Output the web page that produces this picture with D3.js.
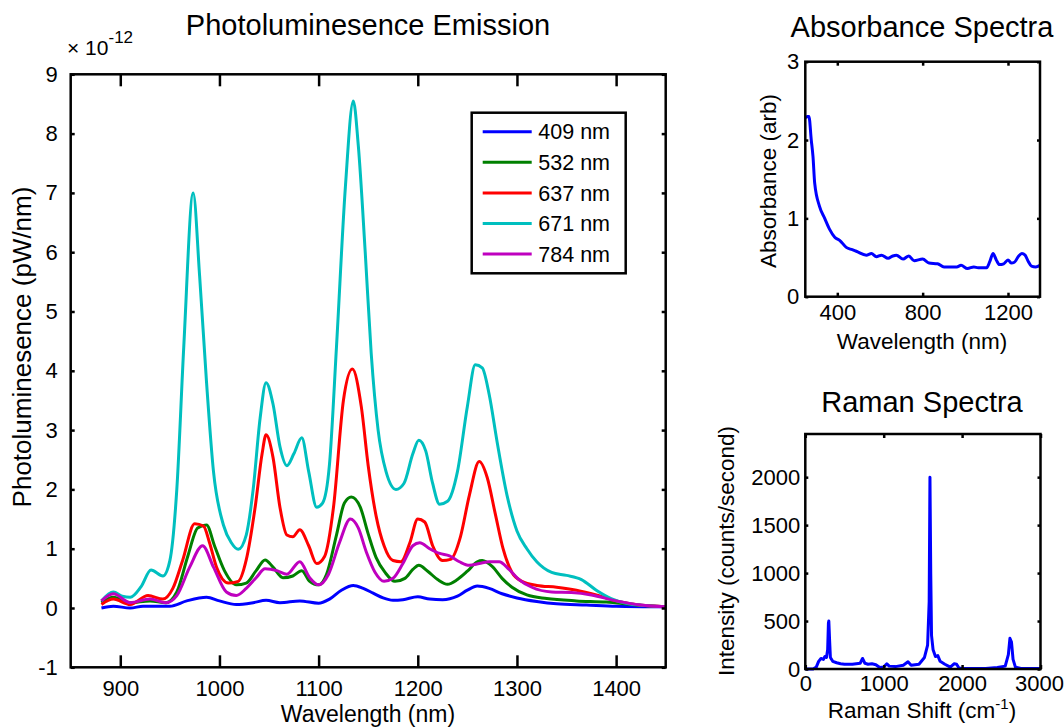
<!DOCTYPE html>
<html>
<head>
<meta charset="utf-8">
<script src="https://cdn.jsdelivr.net/npm/d3@7"></script>
<style>
  body { margin: 0; background: #fff; }
  svg text { font-family: "Liberation Sans", Arial, sans-serif; fill: #000; }
</style>
</head>
<body>
<svg id="fig" width="1064" height="728"></svg>
<script>
// photoluminescence, one array per excitation line: [wavelength nm, value x1e-12]
var pl409 = [[881,0.0],[893,0.03],[910,0.0],[923,0.03],[950,0.03],[967,0.12],[987,0.18],[1000,0.12],[1017,0.06],[1034,0.09],[1047,0.13],[1061,0.09],[1081,0.12],[1100,0.08],[1111,0.15],[1123,0.3],[1135,0.38],[1145,0.33],[1155,0.25],[1165,0.17],[1175,0.13],[1185,0.14],[1200,0.19],[1212,0.15],[1225,0.14],[1240,0.2],[1250,0.3],[1260,0.37],[1272,0.33],[1285,0.24],[1300,0.17],[1320,0.11],[1340,0.07],[1370,0.05],[1400,0.03],[1450,0.02]];
var pl532 = [[881,0.09],[893,0.18],[910,0.09],[930,0.12],[946,0.09],[957,0.27],[968,0.87],[978,1.35],[987,1.4],[995,1.05],[1005,0.63],[1017,0.39],[1027,0.42],[1037,0.63],[1046,0.81],[1054,0.69],[1064,0.51],[1074,0.54],[1083,0.63],[1091,0.45],[1100,0.39],[1108,0.57],[1118,1.23],[1126,1.77],[1133,1.87],[1142,1.7],[1150,1.25],[1158,0.85],[1167,0.6],[1177,0.45],[1187,0.5],[1195,0.65],[1201,0.72],[1210,0.62],[1220,0.48],[1230,0.4],[1240,0.48],[1250,0.62],[1260,0.78],[1265,0.8],[1275,0.7],[1285,0.5],[1295,0.35],[1310,0.22],[1330,0.16],[1360,0.12],[1390,0.1],[1420,0.05],[1450,0.02]];
var pl637 = [[881,0.06],[893,0.15],[910,0.06],[928,0.21],[943,0.15],[953,0.33],[963,0.81],[975,1.42],[984,1.38],[990,1.1],[997,0.69],[1009,0.42],[1019,0.45],[1027,0.81],[1036,1.7],[1043,2.6],[1047,2.92],[1054,2.54],[1061,1.7],[1068,1.23],[1074,1.2],[1081,1.32],[1090,1.05],[1098,0.75],[1106,0.87],[1115,1.7],[1125,3.5],[1134,4.03],[1143,3.4],[1150,2.4],[1158,1.55],[1166,1.05],[1175,0.8],[1183,0.78],[1192,1.1],[1200,1.5],[1207,1.45],[1215,1.05],[1225,0.8],[1233,0.82],[1243,1.2],[1252,1.9],[1262,2.47],[1270,2.2],[1278,1.6],[1286,1.0],[1295,0.6],[1305,0.45],[1320,0.38],[1340,0.35],[1360,0.3],[1380,0.22],[1400,0.12],[1420,0.06],[1450,0.02]];
var pl671 = [[881,0.12],[893,0.27],[902,0.2],[910,0.18],[921,0.36],[931,0.64],[943,0.54],[950,0.8],[957,2.0],[964,4.4],[973.5,7.0],[980,5.6],[987,3.8],[994,2.3],[1004,1.4],[1012,1.1],[1019,0.99],[1027,1.23],[1034,2.0],[1041,3.2],[1047,3.8],[1054,3.44],[1061,2.72],[1068,2.4],[1075,2.6],[1083,2.87],[1090,2.3],[1098,1.7],[1104,1.77],[1111,2.43],[1118,4.4],[1127,7.1],[1135,8.55],[1140,7.8],[1147,6.0],[1153,4.3],[1160,3.0],[1168,2.3],[1178,2.0],[1186,2.1],[1195,2.6],[1201,2.83],[1208,2.65],[1215,2.1],[1222,1.75],[1230,1.8],[1240,2.3],[1250,3.4],[1258,4.1],[1265,4.05],[1272,3.6],[1280,2.8],[1290,1.9],[1300,1.3],[1310,1.0],[1320,0.78],[1335,0.6],[1350,0.55],[1365,0.48],[1380,0.3],[1395,0.16],[1410,0.08],[1430,0.04],[1450,0.02]];
var pl784 = [[881,0.12],[893,0.24],[910,0.09],[930,0.15],[946,0.09],[957,0.21],[970,0.69],[983,1.05],[994,0.69],[1007,0.27],[1017,0.21],[1027,0.33],[1037,0.51],[1046,0.66],[1058,0.63],[1068,0.57],[1081,0.78],[1091,0.51],[1100,0.39],[1110,0.57],[1121,1.1],[1132,1.5],[1140,1.35],[1148,0.95],[1157,0.6],[1166,0.45],[1175,0.5],[1185,0.75],[1195,1.05],[1202,1.1],[1212,1.0],[1222,0.92],[1232,0.88],[1242,0.78],[1252,0.72],[1262,0.75],[1272,0.78],[1282,0.78],[1292,0.65],[1302,0.48],[1315,0.35],[1335,0.27],[1355,0.26],[1375,0.22],[1400,0.12],[1425,0.05],[1450,0.02]];

var plNames = ["409 nm", "532 nm", "637 nm", "671 nm", "784 nm"];
var plColors = ["#0000ff", "#008000", "#ff0000", "#00bfbf", "#bf00bf"];
var plData = [pl409, pl532, pl637, pl671, pl784];

// absorbance [nm, arb]
var absSpec = [[252,2.28],[260,2.3],[267,2.3],[278,2.0],[286,1.79],[294,1.45],[317,1.15],[341,1.0],[364,0.86],[388,0.76],[411,0.72],[442,0.63],[470,0.6],[489,0.58],[536,0.53],[560,0.55],[583,0.51],[607,0.53],[638,0.49],[660,0.52],[677,0.53],[708,0.48],[735,0.52],[760,0.46],[800,0.48],[830,0.43],[870,0.42],[900,0.38],[930,0.38],[960,0.38],[980,0.4],[1010,0.36],[1040,0.38],[1060,0.37],[1100,0.37],[1115,0.45],[1130,0.55],[1145,0.47],[1160,0.41],[1180,0.42],[1200,0.47],[1215,0.43],[1230,0.44],[1250,0.52],[1265,0.55],[1280,0.53],[1295,0.45],[1310,0.39],[1330,0.38],[1350,0.4]];

// raman [cm-1, counts/s]
var ramanSpec = [[0,0],[100,0],[140,20],[170,80],[200,110],[230,100],[250,130],[270,120],[285,200],[295,480],[300,500],[310,300],[320,120],[350,80],[400,65],[450,55],[500,50],[600,50],[700,60],[730,110],[760,60],[800,50],[850,55],[900,45],[950,15],[1000,20],[1040,55],[1070,30],[1150,25],[1250,40],[1310,75],[1350,40],[1450,50],[1520,120],[1560,250],[1580,700],[1590,2000],[1600,1000],[1610,350],[1630,200],[1660,130],[1690,140],[1720,80],[1780,50],[1850,20],[1900,55],[1930,50],[1960,10],[2000,5],[2300,5],[2450,15],[2550,30],[2590,150],[2610,320],[2630,280],[2650,100],[2680,20],[2750,5],[3000,5]];

var plXTicks = [900, 1000, 1100, 1200, 1300, 1400];
var plYTicks = [-1, 0, 1, 2, 3, 4, 5, 6, 7, 8, 9];
var absXTicks = [400, 800, 1200];
var absYTicks = [0, 1, 2, 3];
var ramXTicks = [0, 1000, 2000, 3000];
var ramYTicks = [0, 500, 1000, 1500, 2000];

var svg = d3.select("#fig");
var plain = function(d) { return String(d); };  // matlab style: no commas, no decimals

// box axes like matlab: ticks inward on all four sides, labels bottom/left
function drawAxes(g, x, y, xt, yt, o) {
  var x0 = x.range()[0], x1 = x.range()[1], y0 = y.range()[0], y1 = y.range()[1];

  g.append("g").attr("class", "xlab").attr("transform", "translate(0," + y0 + ")")
    .call(d3.axisBottom(x).tickValues(xt).tickFormat(plain).tickSize(-o.xTick).tickPadding(o.xPad));
  g.append("g").attr("class", "nolab").attr("transform", "translate(0," + y1 + ")")
    .call(d3.axisTop(x).tickValues(xt).tickSize(-o.xTick));
  g.append("g").attr("transform", "translate(" + x0 + ",0)")
    .call(d3.axisLeft(y).tickValues(yt).tickFormat(plain).tickSize(-o.yTick).tickPadding(o.yPad));
  g.append("g").attr("class", "nolab").attr("transform", "translate(" + x1 + ",0)")
    .call(d3.axisRight(y).tickValues(yt).tickSize(-o.yTick));

  g.selectAll(".nolab text").remove();
  g.selectAll(".domain").remove();
  g.selectAll(".tick line").attr("stroke", "#000").attr("stroke-width", o.sw);
  g.selectAll(".tick text")
    .attr("font-size", o.fs)
    .attr("font-family", "Liberation Sans, Arial, sans-serif")
    .attr("fill", "#000");

  g.append("rect")
    .attr("x", x0).attr("y", y1)
    .attr("width", x1 - x0).attr("height", y0 - y1)
    .attr("fill", "none").attr("stroke", "#000").attr("stroke-width", o.sw);
}

function addText(txt, x, y, size, rot) {
  var t = svg.append("text")
    .attr("text-anchor", "middle")
    .attr("font-size", size)
    .text(txt);
  if (rot) t.attr("transform", "translate(" + x + "," + y + ") rotate(-90)");
  else t.attr("x", x).attr("y", y);
  return t;
}

// ---- main panel ----
var mx = d3.scaleLinear().domain([850, 1450]).range([70.7, 665.7]);
var my = d3.scaleLinear().domain([-1, 9]).range([667.3, 74.3]);
var gMain = svg.append("g");

var plLine = d3.line()
  .x(function(d) { return mx(d[0]); })
  .y(function(d) { return my(d[1]); })
  .curve(d3.curveMonotoneX);

plData.forEach(function(series, i) {
  gMain.append("path")
    .attr("d", plLine(series))
    .attr("fill", "none")
    .attr("stroke", plColors[i])
    .attr("stroke-width", 3)
    .attr("stroke-linejoin", "round");
});

drawAxes(gMain, mx, my, plXTicks, plYTicks, {xTick: 12, yTick: 4, xPad: 13, yPad: 13, sw: 2.5, fs: 22});

// legend
var leg = gMain.append("g");
leg.append("rect")
  .attr("x", 471.7).attr("y", 112.7).attr("width", 154).attr("height", 160.6)
  .attr("fill", "#fff").attr("stroke", "#000").attr("stroke-width", 2.5);
plNames.forEach(function(name, i) {
  var ly = 131.7 + i * 30.6;
  leg.append("line")
    .attr("x1", 482.7).attr("x2", 531.7).attr("y1", ly).attr("y2", ly)
    .attr("stroke", plColors[i]).attr("stroke-width", 3);
  leg.append("text")
    .attr("x", 538.3).attr("y", ly).attr("dy", "0.36em")
    .attr("font-size", 21.5)
    .text(name);
});

addText("Photoluminesence Emission", 368, 35, 29);
addText("Wavelength (nm)", 368, 722, 23);
addText("Photoluminesence (pW/nm)", 31, 347, 26, true);

var expo = svg.append("text").attr("x", 67).attr("y", 55).attr("font-size", 21);
expo.append("tspan").text("× 10");
expo.append("tspan").attr("dy", -12).attr("font-size", 17).text("-12");

// ---- absorbance panel ----
var ax = d3.scaleLinear().domain([250, 1350]).range([805.3, 1040]);
var ay = d3.scaleLinear().domain([0, 3]).range([296.7, 61.7]);
var gAbs = svg.append("g");

gAbs.append("path")
  .attr("d", d3.line()
    .x(function(d) { return ax(d[0]); })
    .y(function(d) { return ay(d[1]); })
    .curve(d3.curveMonotoneX)(absSpec))
  .attr("fill", "none").attr("stroke", "#0000ff").attr("stroke-width", 3);

drawAxes(gAbs, ax, ay, absXTicks, absYTicks, {xTick: 4, yTick: 3, xPad: 8, yPad: 6, sw: 2.5, fs: 22});

addText("Absorbance Spectra", 922, 37, 29);
addText("Wavelength (nm)", 922, 349, 22.5);
addText("Absorbance (arb)", 776, 181, 22.5, true);

// ---- raman panel ----
var rx = d3.scaleLinear().domain([0, 3000]).range([805.3, 1040.5]);
var ry = d3.scaleLinear().domain([0, 2450]).range([669, 434]);
var gRam = svg.append("g");

gRam.append("path")
  .attr("d", d3.line()
    .x(function(d) { return rx(d[0]); })
    .y(function(d) { return ry(d[1]); })(ramanSpec))
  .attr("fill", "none").attr("stroke", "#0000ff").attr("stroke-width", 3)
  .attr("stroke-linejoin", "round");

drawAxes(gRam, rx, ry, ramXTicks, ramYTicks, {xTick: 4, yTick: 3, xPad: 6, yPad: 5, sw: 2.5, fs: 22});
// last label sits against the page edge, nudge it in a bit
gRam.selectAll(".xlab .tick text").filter(function(d) { return d === 3000; })
  .attr("text-anchor", "end").attr("x", 23);

addText("Raman Spectra", 922, 412, 29);
var rl = addText("", 922, 718, 22.5);
rl.append("tspan").text("Raman Shift (cm");
rl.append("tspan").attr("dy", -9).attr("font-size", 15).text("-1");
rl.append("tspan").attr("dy", 9).text(")");
addText("Intensity (counts/second)", 734, 551, 22.5, true);
</script>
</body>
</html>
